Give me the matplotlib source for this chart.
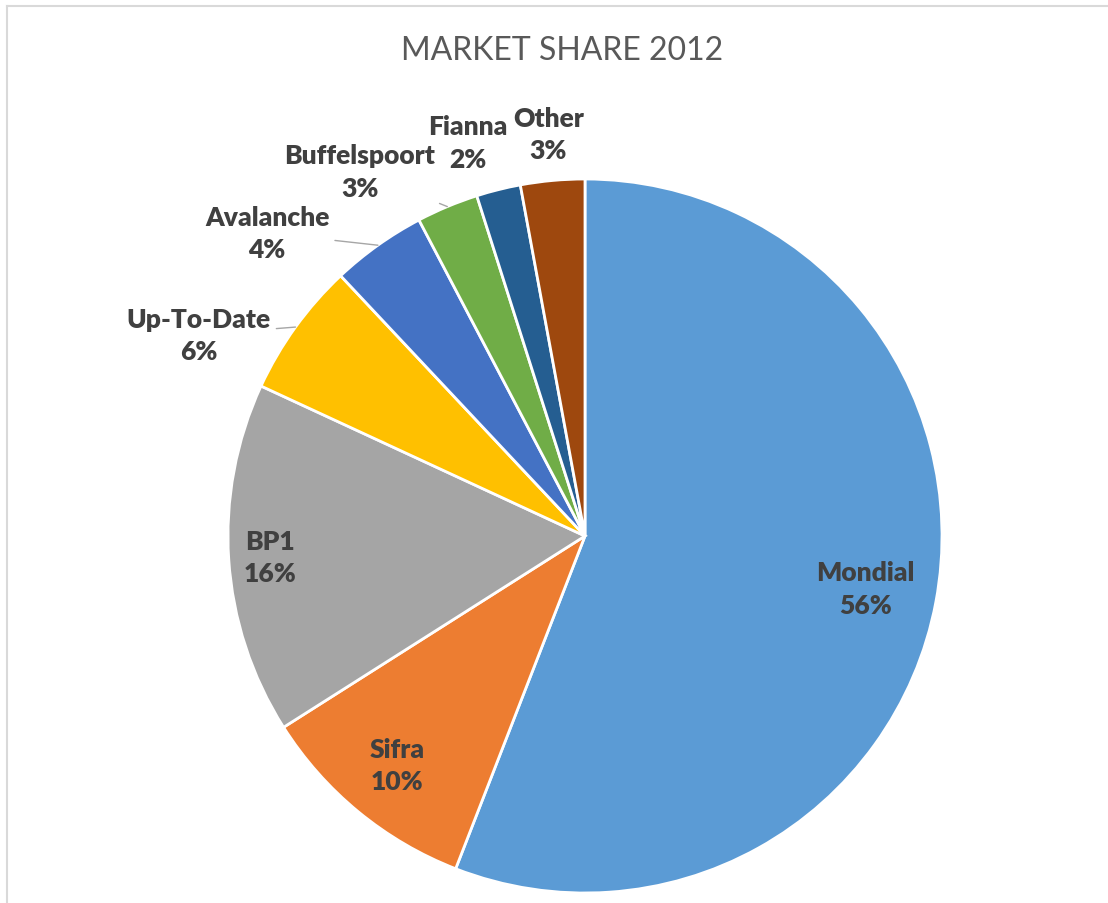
import numpy as np
import matplotlib.pyplot as plt
from matplotlib.lines import Line2D

# market share 2012, in percent
brands = ['Mondial', 'Sifra', 'BP1', 'Up-To-Date', 'Avalanche',
          'Buffelspoort', 'Fianna', 'Other']
shares = [55.9, 10.1, 15.9, 6.1, 4.3, 2.8, 2.0, 2.9]
colors = ['#5B9BD5', '#ED7D31', '#A5A5A5', '#FFC000', '#4472C4',
          '#70AD47', '#255E91', '#9E480E']

# label placement: radius factor and angle shift (deg, clockwise) per slice
label_dist = [0.80, 0.83, 0.885, 1.22, 1.23, 1.20, 1.15, 1.13]
label_shift = [0.0, 0.0, 0.0, -8.3, -10.9, -9.0, -2.5, 0.0]
leader = [False, False, False, True, True, True, False, False]

W, H = 1108, 904
cx, cy, R = 585, H - 537, 357

plt.rcParams['font.family'] = ['Lato', 'DejaVu Sans']

fig = plt.figure(figsize=(W / 100, H / 100), dpi=100)
ax = fig.add_axes([0, 0, 1, 1])

wedges, _ = ax.pie(shares, colors=colors, startangle=90, counterclock=False,
                   center=(cx, cy), radius=R,
                   wedgeprops=dict(edgecolor='white', linewidth=2.0))
ax.set_xlim(0, W)
ax.set_ylim(0, H)
ax.set_aspect('equal')
ax.axis('off')

lbl = dict(ha='center', va='center', fontsize=19, fontweight='heavy',
           color='#404040', linespacing=1.42)

total = sum(shares)
for w, name, v, d, s, ld in zip(wedges, brands, shares, label_dist, label_shift, leader):
    mid = 0.5 * (w.theta1 + w.theta2)          # counter-clockwise from +x
    a = np.deg2rad(mid - s)
    tx, ty = cx + R * d * np.cos(a), cy + R * d * np.sin(a)
    txt = f'{name}\n{round(v / total * 100):.0f}%'
    if ld:
        m = np.deg2rad(mid)
        ax.annotate(txt, xy=(cx + R * np.cos(m), cy + R * np.sin(m)), xytext=(tx, ty),
                    arrowprops=dict(arrowstyle='-', color='#A6A6A6', lw=1.0,
                                    shrinkA=2, shrinkB=0), **lbl)
    else:
        ax.text(tx, ty, txt, **lbl)

ax.text(562, H - 51, 'MARKET SHARE 2012', ha='center', va='center',
        fontsize=23, color='#595959')

# chart area border (only top and left visible in the crop)
fig.add_artist(Line2D([7 / W, 7 / W], [0, 1 - 7 / H], color='#D9D9D9', lw=1.5))
fig.add_artist(Line2D([7 / W, 1], [1 - 7 / H, 1 - 7 / H], color='#D9D9D9', lw=1.5))

fig.savefig('out.png', dpi=100)
